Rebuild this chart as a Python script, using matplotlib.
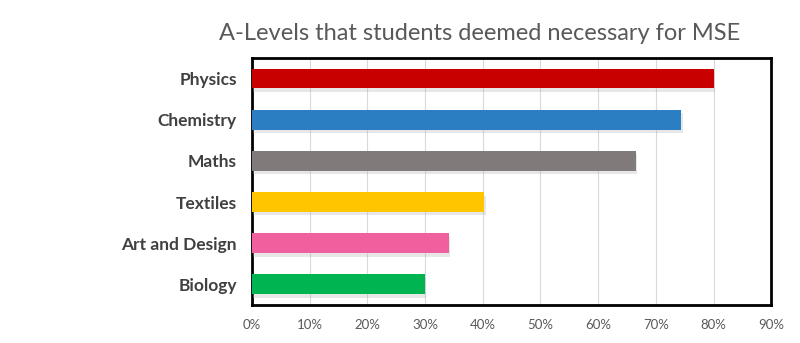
import matplotlib
matplotlib.use('Agg')
import matplotlib.pyplot as plt
import matplotlib.patheffects as pe

# data (top to bottom)
subjects = ['Physics', 'Chemistry', 'Maths', 'Textiles', 'Art and Design', 'Biology']
share = [0.80, 0.744, 0.665, 0.403, 0.341, 0.30]
bar_colors = ['#C80000', '#2B7EC1', '#807A7A', '#FFC600', '#F0609E', '#00B451']
ticks = [0, 0.1, 0.2, 0.3, 0.4, 0.5, 0.6, 0.7, 0.8, 0.9]
tick_labels = ['0%', '10%', '20%', '30%', '40%', '50%', '60%', '70%', '80%', '90%']

plt.rcParams['font.family'] = ['Lato', 'DejaVu Sans']

fig = plt.figure(figsize=(8, 3.43), dpi=100)
ax = fig.add_axes([0.315, 0.111, 0.649, 0.72])

ypos = list(range(len(subjects)))
bars = ax.barh(ypos, share, height=0.48, color=bar_colors, zorder=3)
# soft drop shadow under each bar
for b in bars:
    b.set_path_effects([pe.SimplePatchShadow(offset=(1, -2.5), shadow_rgbFace='#b0b0b0', alpha=0.3),
                        pe.Normal()])

ax.set_xlim(0, 0.9)
ax.set_ylim(len(subjects) - 0.5, -0.5)
ax.set_xticks(ticks)
ax.set_xticklabels(tick_labels, color='#595959', fontsize=9.5)
ax.set_yticks(ypos)
ax.set_yticklabels(subjects, fontsize=12.5, fontweight='bold', color='#404040')
ax.tick_params(axis='both', length=0)
ax.tick_params(axis='x', pad=10)
ax.tick_params(axis='y', pad=11)

ax.xaxis.grid(True, color='#d9d9d9', linewidth=0.8, zorder=0)
ax.set_axisbelow(True)
for s in ax.spines.values():
    s.set_color('black')
    s.set_linewidth(2)

fig.text(0.6, 0.902, 'A-Levels that students deemed necessary for MSE',
         ha='center', va='center', fontsize=17, color='#595959')

fig.savefig('out.png', dpi=100)
